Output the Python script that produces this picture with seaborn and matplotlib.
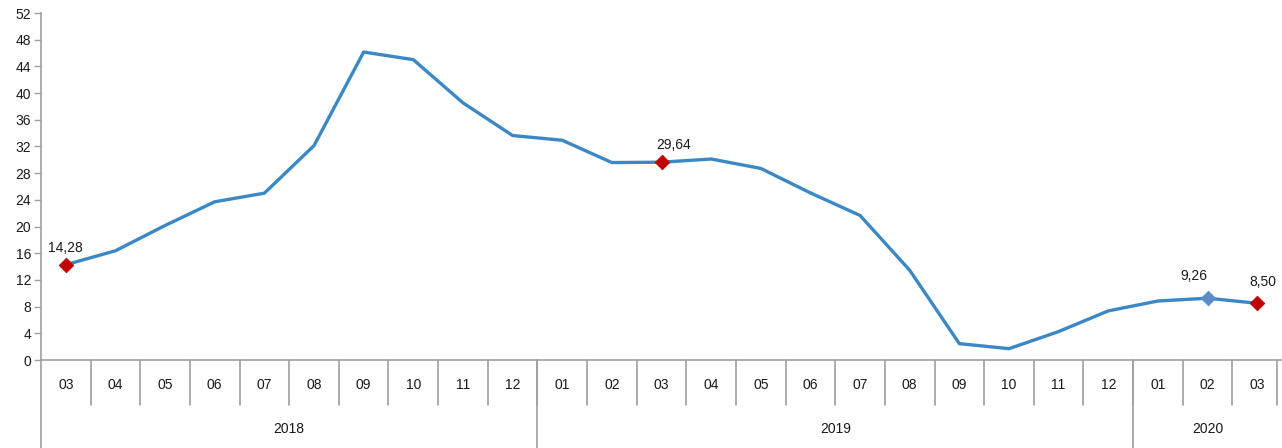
import pandas as pd
import matplotlib
matplotlib.use("Agg")
import matplotlib.pyplot as plt
import seaborn as sns

# Monthly values, 2018-03 .. 2020-03
months = ["03", "04", "05", "06", "07", "08", "09", "10", "11", "12",
          "01", "02", "03", "04", "05", "06", "07", "08", "09", "10", "11", "12",
          "01", "02", "03"]
values = [14.28, 16.37, 20.16, 23.71, 25.00, 32.13, 46.15, 45.01, 38.54, 33.64,
          32.93, 29.59, 29.64, 30.12, 28.71, 25.04, 21.66, 13.45, 2.45, 1.70, 4.26, 7.36,
          8.84, 9.26, 8.50]
years = ["2018", "2019", "2020"]
year_counts = [10, 12, 3]

# highlighted points
red_idx = [0, 12, 24]
blue_idx = [23]

df = pd.DataFrame({"pos": range(len(values)), "month": months, "value": values})

sns.set_style("white")
plt.rcParams["font.family"] = ["Liberation Sans", "DejaVu Sans"]

fig = plt.figure(figsize=(12.82, 4.48), dpi=100)
ax = fig.add_axes([41 / 1282, 1 - 360 / 448, 1 - 41 / 1282, 347 / 448])

line_col = "#3A88C6"
sns.lineplot(data=df, x="pos", y="value", ax=ax, color=line_col, linewidth=2.4)

red = df.iloc[red_idx]
blue = df.iloc[blue_idx]
sns.scatterplot(data=red, x="pos", y="value", ax=ax, marker="D", s=55,
                color="#C00000", edgecolor="#C00000", zorder=5)
sns.scatterplot(data=blue, x="pos", y="value", ax=ax, marker="D", s=55,
                color="#5B8CC8", edgecolor="#5B8CC8", zorder=5)

offsets = {0: (0, 7), 12: (9, 7), 23: (-10, 11), 24: (4, 10)}
for i, (dx, dy) in offsets.items():
    lbl = f"{values[i]:.2f}".replace(".", ",")
    ax.annotate(lbl, (i, values[i]), xytext=(dx, dy), textcoords="offset points",
                ha="center", va="bottom", fontsize=10, color="#1a1a1a")

ax.set_xlim(-0.5, len(values) - 0.5)
ax.set_ylim(0, 52)
ax.set_yticks(range(0, 53, 4))
ax.set_xticks([])
ax.set_xlabel("")
ax.set_ylabel("")
ax.tick_params(axis="y", left=True, length=5, width=1, color="#A0A0A0",
               labelsize=10, pad=2, labelcolor="#1a1a1a")

for s in ["top", "right"]:
    ax.spines[s].set_visible(False)
for s in ["left", "bottom"]:
    ax.spines[s].set_color("#A0A0A0")
    ax.spines[s].set_linewidth(1.2)

# two-level category axis below the plot
tr = ax.get_xaxis_transform()
sep_col = "#A0A0A0"
for i, m in enumerate(months):
    ax.text(i, -0.072, m, transform=tr, ha="center", va="center",
            fontsize=10, color="#1a1a1a")
for i in range(1, len(months) + 1):
    xs = min(i - 0.5, len(months) - 0.6)
    ax.plot([xs, xs], [0, -0.13], transform=tr, color=sep_col,
            linewidth=1.2, clip_on=False)

start = 0
for y, n in zip(years, year_counts):
    ax.text(start + (n - 1) / 2, -0.2, y, transform=tr, ha="center",
            va="center", fontsize=10, color="#1a1a1a")
    ax.plot([start - 0.5, start - 0.5], [0, -0.26], transform=tr,
            color=sep_col, linewidth=1.2, clip_on=False)
    start += n

fig.savefig("out.png", dpi=100)
